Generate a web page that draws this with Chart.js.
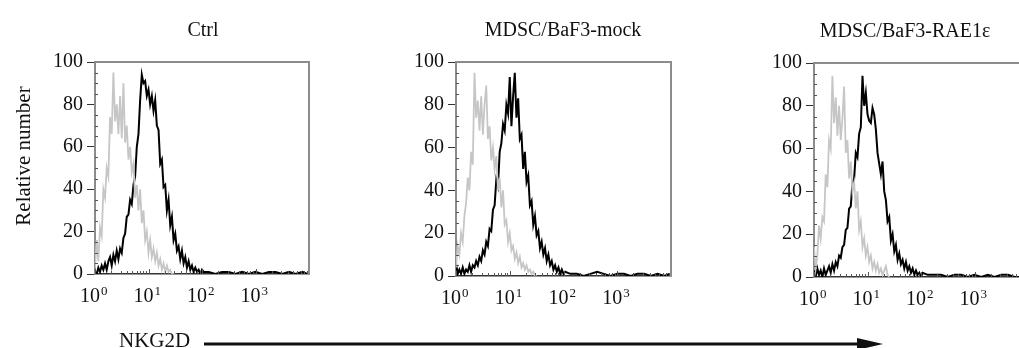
<!DOCTYPE html>
<html lang="en">
<head>
<meta charset="UTF-8">
<title>NKG2D expression histograms</title>
<script src="https://cdn.jsdelivr.net/npm/chart.js"></script>
<style>
  html, body { margin: 0; padding: 0; background: #fff; }
  body { width: 1019px; height: 348px; overflow: hidden; position: relative; }
  .panel { position: absolute; top: 0; width: 340px; height: 320px; }
  #footer { position: absolute; left: 0; top: 0; }
</style>
</head>
<body>
<div class="panel" style="left:0px"><canvas id="ctrl"></canvas></div>
<div class="panel" style="left:360px"><canvas id="mock"></canvas></div>
<div class="panel" style="left:720px"><canvas id="rae"></canvas></div>
<svg id="footer" width="1019" height="348">
  <text x="119" y="347" font-family="Liberation Serif, Times New Roman, serif" font-size="21" fill="#111">NKG2D</text>
  <line x1="204" y1="344" x2="862" y2="344" stroke="#111" stroke-width="3"/>
  <polygon points="857,338 883,344 857,350" fill="#111"/>
</svg>

<script>
// channel positions (1024 channels = 4 decades, 256 per decade)
const channels = [0,8,16,24,32,40,48,56,64,72,80,88,96,104,112,120,128,136,144,152,160,168,176,184,192,200,208,216,224,232,240,248,256,264,272,280,288,296,304,312,320,328,336,344,352,360,368,376,384,392,400,408,416,424,432,440,448,456,464,472,480,488,496,504,512,520,
  544,576,608,640,672,704,736,768,800,832,864,896,928,960,992,1016];

const decadeTicks = [0, 256, 512, 768];
const decadeExps = ['0', '1', '2', '3'];
const yTicks = [0, 20, 40, 60, 80, 100];

const panelTitles = ['Ctrl', 'MDSC/BaF3-mock', 'MDSC/BaF3-RAE1ε'];

// isotype control (grey)
const ctrlIso = [3,16,6,22,18,40,36,50,46,74,66,95,72,80,66,84,64,90,62,70,54,60,48,52,36,42,30,40,24,30,16,20,10,16,8,12,6,10,4,7,2,5,1,4,1,2,0,0];
const mockIso = [4,14,10,20,16,28,34,46,40,58,52,95,74,82,68,84,66,80,89,64,70,54,60,50,56,40,46,32,40,24,26,16,20,12,14,8,11,6,9,4,6,3,5,2,3,1,2,0,0];
const raeIso  = [14,4,10,24,18,28,26,48,42,64,60,94,72,84,66,80,64,74,89,58,64,46,54,40,44,32,40,22,26,14,18,10,14,7,10,4,7,3,6,2,4,1,3,5,1,0];

// NKG2D staining (black)
const ctrlNkg = [1,0,3,1,4,2,5,2,6,8,4,9,6,11,7,12,10,17,19,27,28,35,33,42,46,60,66,82,94,90,91,84,87,80,84,77,82,70,68,52,54,41,42,30,35,23,27,16,19,11,13,7,11,5,8,3,6,2,4,1,3,1,2,0,2,1,
  1,0,1,1,0,1,0,1,0,1,1,0,1,0,1,0];
const mockNkg = [6,1,3,1,4,1,3,2,5,2,5,4,7,5,9,7,12,10,16,14,22,21,31,33,45,42,58,62,71,68,80,76,93,70,84,95,74,83,64,66,50,58,44,47,33,35,24,28,19,21,13,16,10,13,7,10,5,7,3,5,2,4,1,3,1,2,
  1,1,0,1,2,1,0,1,1,0,1,1,0,1,0,1];
const raeNkg  = [3,0,4,1,3,0,4,1,3,5,2,6,3,7,5,10,9,14,15,22,23,32,33,44,46,58,56,67,70,94,80,86,76,73,72,79,76,69,58,53,48,54,40,36,26,28,17,20,12,15,8,11,6,8,4,7,3,5,2,4,1,3,1,2,0,2,
  1,1,1,0,1,1,0,1,0,1,0,1,1,0,0,1];

const serif = "'Liberation Serif', 'Times New Roman', serif";
Chart.defaults.font.family = serif;
Chart.defaults.font.size = 20;
Chart.defaults.color = '#111';

function toPoints(vals) {
  return vals.map((v, i) => ({ x: channels[i], y: v }));
}

// frame, minor ticks, decade labels, panel title, y title
const panelDecor = {
  id: 'panelDecor',
  afterDraw(chart, args, opts) {
    const { ctx, chartArea: a, scales: { x, y } } = chart;
    ctx.save();
    ctx.strokeStyle = '#8c8c8c';
    ctx.lineWidth = 2;
    ctx.beginPath();
    ctx.moveTo(a.left, a.top);
    ctx.lineTo(a.right, a.top);
    ctx.lineTo(a.right, a.bottom);
    ctx.stroke();

    ctx.strokeStyle = '#555';
    ctx.lineWidth = 1;
    ctx.beginPath();
    for (let d = 0; d < 4; d++) {
      for (let k = 1; k <= 9; k++) {
        const px = Math.round(x.getPixelForValue((d + Math.log10(k)) * 256)) + 0.5;
        const len = k === 1 ? 5 : 3;
        ctx.moveTo(px, a.bottom);
        ctx.lineTo(px, a.bottom - len);
      }
    }
    for (let v = 5; v < 100; v += 5) {
      if (v % 20 === 0) continue;
      const py = Math.round(y.getPixelForValue(v)) + 0.5;
      ctx.moveTo(a.left, py);
      ctx.lineTo(a.left + 3, py);
    }
    ctx.stroke();

    // decade labels: 10 with a raised exponent
    ctx.fillStyle = '#111';
    ctx.textBaseline = 'alphabetic';
    decadeTicks.forEach((t, i) => {
      const px = x.getPixelForValue(t) + 1;
      ctx.font = '20px ' + serif;
      ctx.textAlign = 'right';
      ctx.fillText('10', px + 4, a.bottom + 28);
      ctx.font = '13px ' + serif;
      ctx.textAlign = 'left';
      ctx.fillText(decadeExps[i], px + 5, a.bottom + 21);
    });

    ctx.font = '20px ' + serif;
    ctx.textAlign = 'center';
    ctx.fillText(opts.title, opts.titleX, a.top - 26);

    if (opts.yTitle) {
      ctx.translate(30, 156);
      ctx.rotate(-Math.PI / 2);
      ctx.font = '21px ' + serif;
      ctx.fillText(opts.yTitle, 0, 0);
    }
    ctx.restore();
  }
};

function makePanel(id, title, titleX, iso, nkg, box, yTitle) {
  new Chart(document.getElementById(id), {
    type: 'line',
    data: {
      datasets: [
        { data: toPoints(iso), borderColor: '#c6c6c6', borderWidth: 1.8, pointRadius: 0, tension: 0 },
        { data: toPoints(nkg), borderColor: '#000', borderWidth: 2, pointRadius: 0, tension: 0 }
      ]
    },
    options: {
      responsive: true,
      maintainAspectRatio: false,
      animation: false,
      events: [],
      layout: { padding: { top: box.top, right: box.right, left: 0, bottom: 0 } },
      plugins: {
        legend: { display: false },
        tooltip: { enabled: false },
        panelDecor: { title: title, titleX: titleX, yTitle: yTitle }
      },
      scales: {
        x: {
          type: 'linear',
          min: 0,
          max: 1024,
          afterFit: s => { s.height = box.xh; },
          afterBuildTicks: s => { s.ticks = decadeTicks.map(v => ({ value: v })); },
          ticks: { display: false },
          grid: { display: false, drawTicks: false },
          border: { display: true, color: '#333', width: 1.5 }
        },
        y: {
          min: 0,
          max: 100,
          afterFit: s => { s.width = box.yw; },
          afterBuildTicks: s => { s.ticks = yTicks.map(v => ({ value: v })); },
          ticks: { padding: 4, autoSkip: false },
          grid: { display: true, drawOnChartArea: false, drawTicks: true, tickLength: 8, color: '#333', lineWidth: 1 },
          border: { display: true, color: '#8c8c8c', width: 2 }
        }
      }
    },
    plugins: [panelDecor]
  });
}

makePanel('ctrl', panelTitles[0], 203, ctrlIso, ctrlNkg, { top: 62, right: 31, xh: 46, yw: 95 }, 'Relative number');
makePanel('mock', panelTitles[1], 203, mockIso, mockNkg, { top: 62, right: 29, xh: 44, yw: 96 }, null);
makePanel('rae', panelTitles[2], 185, raeIso, raeNkg, { top: 63, right: 32, xh: 43, yw: 94 }, null);
</script>
</body>
</html>
